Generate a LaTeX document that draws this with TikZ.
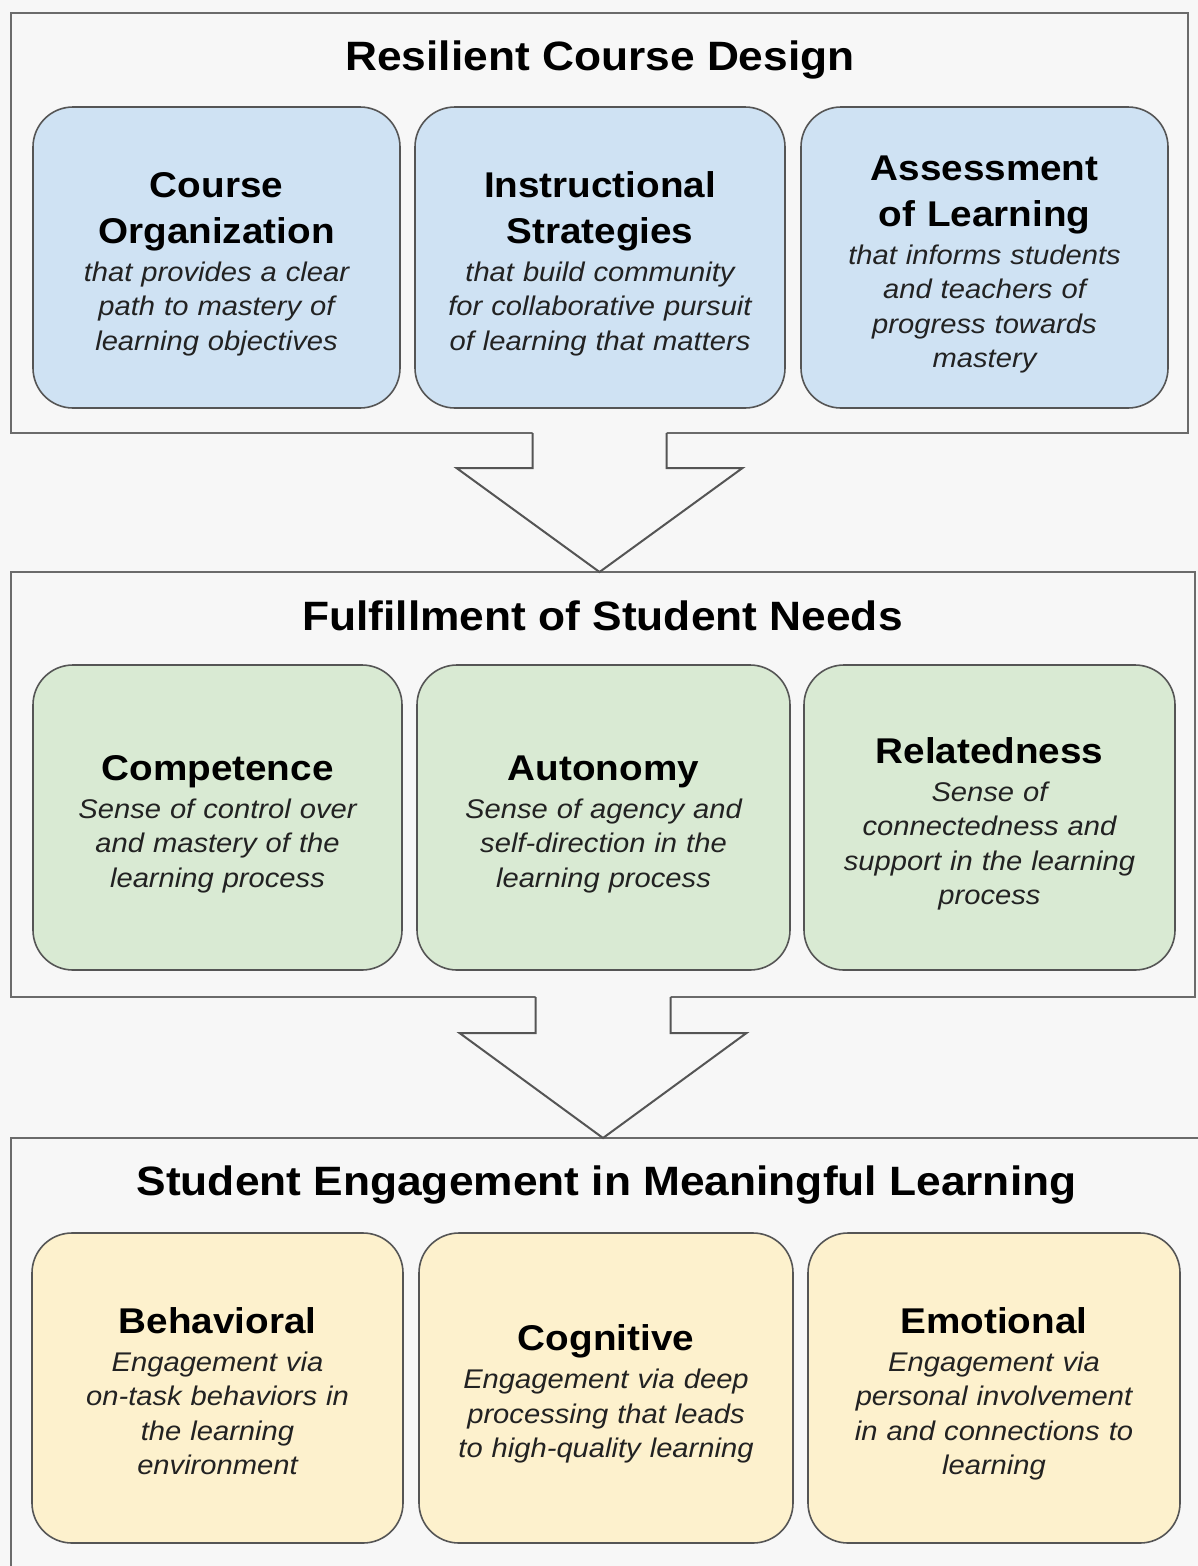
\documentclass[tikz,border=0pt]{standalone}
\usepackage{fontspec}
\setmainfont{Liberation Sans}[FakeStretch=1.08]
\usetikzlibrary{calc}

\definecolor{pagebg}{HTML}{F7F7F7}
\definecolor{frameline}{HTML}{6B6B6B}
\definecolor{cardline}{HTML}{555555}
\definecolor{bluefill}{HTML}{CFE2F3}
\definecolor{greenfill}{HTML}{D9EAD3}
\definecolor{yellowfill}{HTML}{FDF1CD}
\definecolor{desctext}{HTML}{222222}

\tikzset{
  section/.style={draw=frameline, line width=2pt, fill=pagebg, inner sep=0pt, outer sep=0pt},
  card/.style={draw=cardline, line width=1.6pt, rounded corners=40pt, inner sep=0pt, outer sep=0pt, fill=#1},
  headline/.style={anchor=base, inner sep=0pt, font=\fontsize{41}{48}\selectfont\bfseries},
  cardtitle/.style={anchor=base, inner sep=0pt, text width=360pt, align=center,
    font=\fontsize{35.8}{46}\selectfont\bfseries},
  carddesc/.style={anchor=base, inner sep=0pt, text width=360pt, align=center, text=desctext,
    font=\fontsize{27}{34.5}\selectfont\itshape},
  blockarrow/.style={draw=cardline, line width=2pt, line join=miter},
}

\begin{document}
\begin{tikzpicture}[x=1pt, y=-1pt]
  \path[use as bounding box, fill=pagebg] (0,0) rectangle (1198,1566);

  % ---------- three stacked sections ----------
  \node[section, minimum width=1177pt, minimum height=420pt] (sec1) at (599.5,223) {};
  \node[section, minimum width=1184pt, minimum height=425pt] (sec2) at (603,784.5) {};
  \node[section, minimum width=1204pt, minimum height=462pt] (sec3) at (613,1369) {};

  \node[headline] (h1) at (600,70) {Resilient Course Design};
  \node[headline] (h2) at (602.5,630) {Fulfillment of Student Needs};
  \node[headline] (h3) at (606.5,1195) {Student Engagement in Meaningful Learning};

  % ---------- block arrows between sections ----------
  \fill[pagebg] ($(sec1.south)+(-67,-2)$) -- ($(sec1.south)+(-67,35)$) -- ($(sec1.south)+(-143,35)$)
    -- (sec1.south |- sec2.north) -- ($(sec1.south)+(143,35)$) -- ($(sec1.south)+(67,35)$)
    -- ($(sec1.south)+(67,-2)$) -- cycle;
  \draw[blockarrow] ($(sec1.south)+(-67,0)$) -- ($(sec1.south)+(-67,35)$) -- ($(sec1.south)+(-143,35)$)
    -- (sec1.south |- sec2.north) -- ($(sec1.south)+(143,35)$) -- ($(sec1.south)+(67,35)$)
    -- ($(sec1.south)+(67,0)$);

  \fill[pagebg] ($(sec2.south)+(-67.5,-2)$) -- ($(sec2.south)+(-67.5,36)$) -- ($(sec2.south)+(-143.5,36)$)
    -- (sec2.south |- sec3.north) -- ($(sec2.south)+(143.5,36)$) -- ($(sec2.south)+(67.5,36)$)
    -- ($(sec2.south)+(67.5,-2)$) -- cycle;
  \draw[blockarrow] ($(sec2.south)+(-67.5,0)$) -- ($(sec2.south)+(-67.5,36)$) -- ($(sec2.south)+(-143.5,36)$)
    -- (sec2.south |- sec3.north) -- ($(sec2.south)+(143.5,36)$) -- ($(sec2.south)+(67.5,36)$)
    -- ($(sec2.south)+(67.5,0)$);

  % ---------- course design cards ----------
  \node[card=bluefill, minimum width=367pt, minimum height=301pt] (org) at (216.5,257.5) {};
  \node[card=bluefill, minimum width=370pt, minimum height=301pt] (ins) at (600,257.5) {};
  \node[card=bluefill, minimum width=367pt, minimum height=301pt] (ass) at (984.5,257.5) {};

  \node[cardtitle] (org-t) at (216.5,197) {Course\\Organization};
  \node[carddesc]  (org-d) at (216.5,281) {that provides a clear\\path to mastery of\\learning objectives};
  \node[cardtitle] (ins-t) at (600,197) {Instructional\\Strategies};
  \node[carddesc]  (ins-d) at (600,281) {that build community\\for collaborative pursuit\\of learning that matters};
  \node[cardtitle] (ass-t) at (984.5,180) {Assessment\\of Learning};
  \node[carddesc]  (ass-d) at (984.5,264) {that informs students\\and teachers of\\progress towards\\mastery};

  % ---------- student needs cards ----------
  \node[card=greenfill, minimum width=369pt, minimum height=305pt] (com) at (217.5,817.5) {};
  \node[card=greenfill, minimum width=373pt, minimum height=305pt] (aut) at (603.5,817.5) {};
  \node[card=greenfill, minimum width=371pt, minimum height=305pt] (rel) at (989.5,817.5) {};

  \node[cardtitle] (com-t) at (217.5,780) {Competence};
  \node[carddesc]  (com-d) at (217.5,818) {Sense of control over\\and mastery of the\\learning process};
  \node[cardtitle] (aut-t) at (603.5,780) {Autonomy};
  \node[carddesc]  (aut-d) at (603.5,818) {Sense of agency and\\self-direction in the\\learning process};
  \node[cardtitle] (rel-t) at (989.5,763) {Relatedness};
  \node[carddesc]  (rel-d) at (989.5,801) {Sense of\\connectedness and\\support in the learning\\process};

  % ---------- engagement cards ----------
  \node[card=yellowfill, minimum width=371pt, minimum height=310pt] (beh) at (217.5,1388) {};
  \node[card=yellowfill, minimum width=374pt, minimum height=310pt] (cog) at (606,1388) {};
  \node[card=yellowfill, minimum width=372pt, minimum height=310pt] (emo) at (994,1388) {};

  \node[cardtitle] (beh-t) at (217.5,1333) {Behavioral};
  \node[carddesc]  (beh-d) at (217.5,1371) {Engagement via\\on-task behaviors in\\the learning\\environment};
  \node[cardtitle] (cog-t) at (606,1350.5) {Cognitive};
  \node[carddesc]  (cog-d) at (606,1388.5) {Engagement via deep\\processing that leads\\to high-quality learning};
  \node[cardtitle] (emo-t) at (994,1333) {Emotional};
  \node[carddesc]  (emo-d) at (994,1371) {Engagement via\\personal involvement\\in and connections to\\learning};
\end{tikzpicture}
\end{document}
